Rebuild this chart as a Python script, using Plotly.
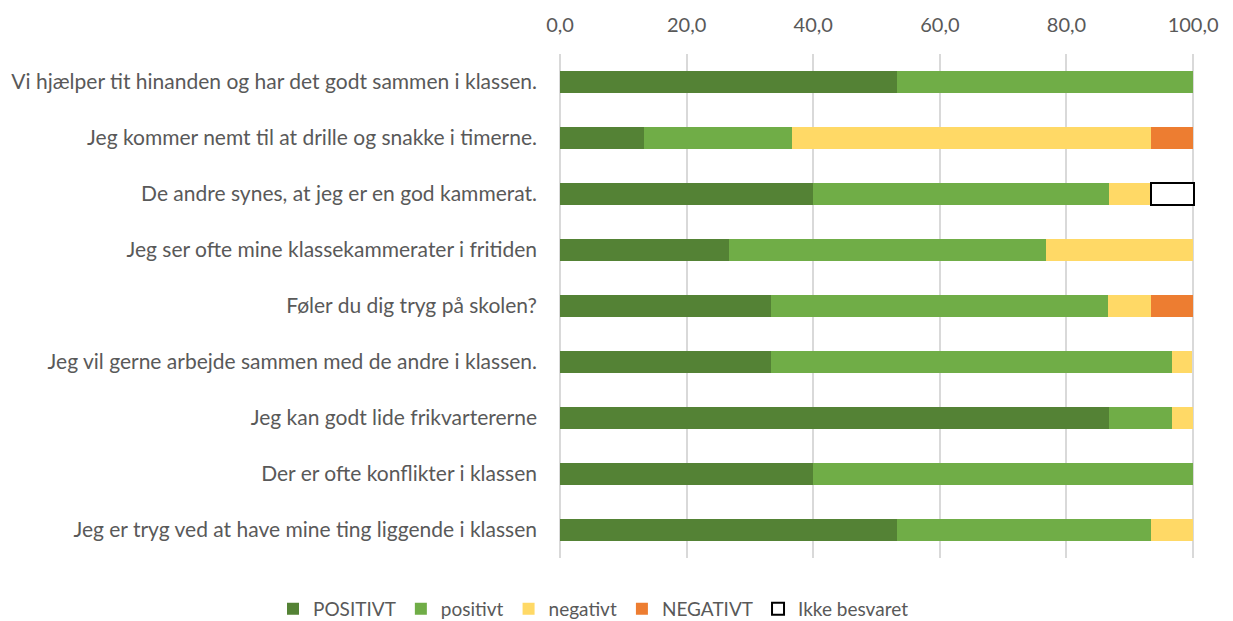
import plotly.graph_objects as go

categories = [
    "Vi hjælper tit hinanden og har det godt sammen i klassen.",
    "Jeg kommer nemt til at drille og snakke i timerne.",
    "De andre synes, at jeg er en god kammerat.",
    "Jeg ser ofte mine klassekammerater i fritiden",
    "Føler du dig tryg på skolen?",
    "Jeg vil gerne arbejde sammen med de andre i klassen.",
    "Jeg kan godt lide frikvartererne",
    "Der er ofte konflikter i klassen",
    "Jeg er tryg ved at have mine ting liggende i klassen",
]

POSITIVT = [53.3, 13.3, 40.0, 26.7, 33.3, 33.3, 86.7, 40.0, 53.3]
positivt = [46.7, 23.3, 46.7, 50.0, 53.3, 63.3, 10.0, 60.0, 40.0]
negativt = [0.0, 56.7, 6.7, 23.3, 6.7, 3.3, 3.3, 0.0, 6.7]
NEGATIVT = [0.0, 6.7, 0.0, 0.0, 6.7, 0.0, 0.0, 0.0, 0.0]
ikke_besvaret = [0.0, 0.0, 6.7, 0.0, 0.0, 0.0, 0.0, 0.0, 0.0]

tick_vals = [0, 20, 40, 60, 80, 100]
tick_text = ["0,0", "20,0", "40,0", "60,0", "80,0", "100,0"]

series = [
    ("POSITIVT", POSITIVT, "#548235", "#548235", 0),
    ("positivt", positivt, "#70AD47", "#70AD47", 0),
    ("negativt", negativt, "#FFD966", "#FFD966", 0),
    ("NEGATIVT", NEGATIVT, "#ED7D31", "#ED7D31", 0),
    ("Ikke besvaret", ikke_besvaret, "#FFFFFF", "#000000", 2),
]

font_family = "Lato, Open Sans, sans-serif"
text_color = "#595959"

fig = go.Figure()
for name, vals, fill, line, lw in series:
    fig.add_trace(go.Bar(
        name=name,
        y=categories,
        x=[v if v > 0 else None for v in vals],
        orientation="h",
        marker=dict(color=fill, line=dict(color=line, width=lw)),
        cliponaxis=False,
        hoverinfo="x+name",
    ))

fig.update_layout(
    barmode="stack",
    bargap=0.6,
    width=1225,
    height=613,
    margin=dict(l=552, r=38, t=46, b=63, autoexpand=False),
    paper_bgcolor="white",
    plot_bgcolor="white",
    font=dict(family=font_family, size=20, color=text_color),
    xaxis=dict(
        side="top",
        range=[0, 100.3],
        tickvals=tick_vals,
        ticktext=tick_text,
        showgrid=True,
        gridcolor="#D9D9D9",
        gridwidth=1.5,
        zeroline=True,
        zerolinecolor="#D9D9D9",
        zerolinewidth=1.5,
        showline=False,
        ticks="",
        ticklabelstandoff=17,
        tickfont=dict(size=20, color=text_color),
        fixedrange=True,
        automargin=False,
    ),
    yaxis=dict(
        autorange="reversed",
        showgrid=False,
        showline=False,
        ticks="",
        ticklabelstandoff=22,
        tickfont=dict(size=21, color=text_color),
        fixedrange=True,
        automargin=False,
    ),
    legend=dict(
        orientation="h",
        x=-0.452,
        xanchor="left",
        y=-0.101,
        yanchor="middle",
        font=dict(size=19, color=text_color),
        traceorder="normal",
        itemwidth=30,
    ),
    showlegend=True,
)

fig.write_html("out.html")
